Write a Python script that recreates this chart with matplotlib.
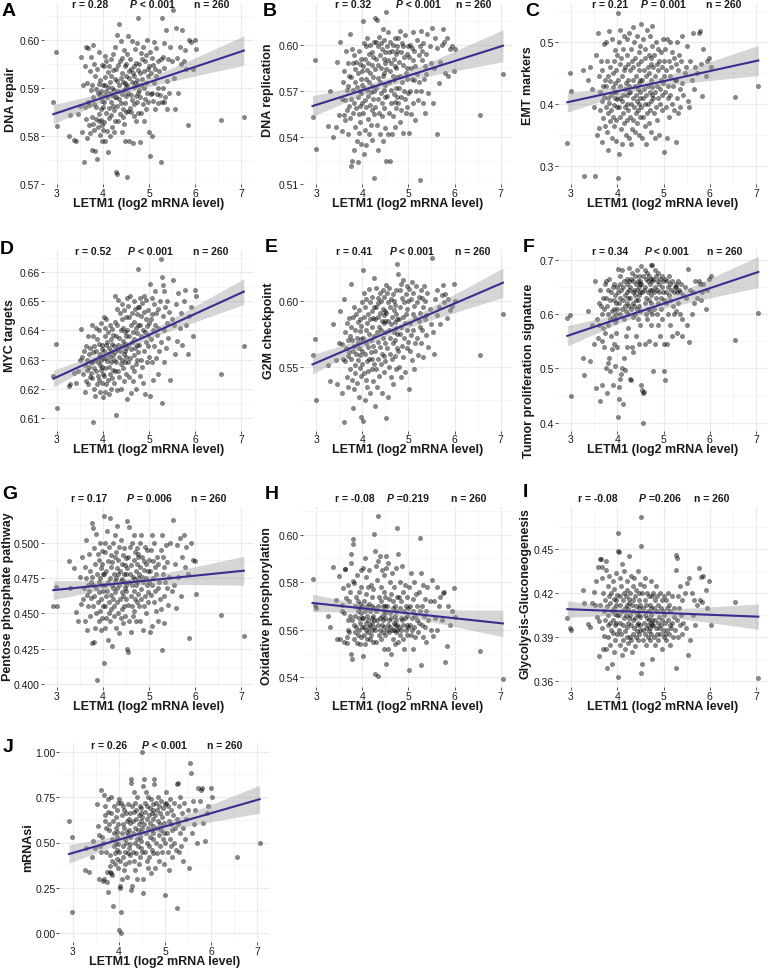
import numpy as np
import matplotlib
matplotlib.use('Agg')
import matplotlib.pyplot as plt

plt.rcParams['font.family'] = ['Liberation Sans', 'DejaVu Sans']

W, H = 771, 970

# LETM1 expression (log2 mRNA level), same 260 samples in every panel
letm1 = np.array([
    2.92, 2.98, 2.99,
    3.26, 3.29, 3.36, 3.42, 3.45, 3.49,
    3.52, 3.55, 3.57, 3.58, 3.60, 3.61, 3.62, 3.63, 3.65, 3.66, 3.67, 3.68, 3.69, 3.70, 3.71, 3.72, 3.73, 3.74,
    3.75, 3.76, 3.76, 3.77, 3.78, 3.79, 3.80, 3.80, 3.81, 3.82, 3.83, 3.84, 3.85, 3.85, 3.86, 3.87, 3.88, 3.89,
    3.90, 3.90, 3.91, 3.92, 3.93, 3.93, 3.94, 3.95, 3.95, 3.96, 3.97, 3.97, 3.98, 3.98, 3.99, 3.99, 4.00,
    4.01, 4.01, 4.02, 4.03, 4.03, 4.04, 4.05, 4.05, 4.06, 4.07, 4.07, 4.08, 4.09, 4.10, 4.10, 4.11, 4.12, 4.12, 4.13,
    4.14, 4.14, 4.15, 4.16, 4.17, 4.17, 4.18, 4.19, 4.20, 4.20, 4.21, 4.22, 4.22, 4.23, 4.24, 4.24, 4.25, 4.25, 4.25,
    4.26, 4.27, 4.27, 4.28, 4.29, 4.30, 4.30, 4.31, 4.32, 4.33, 4.33, 4.34, 4.35, 4.35, 4.36, 4.37, 4.38, 4.38, 4.39,
    4.40, 4.40, 4.41, 4.42, 4.43, 4.43, 4.44, 4.45, 4.45, 4.46, 4.47, 4.47, 4.48, 4.48, 4.49, 4.49, 4.50, 4.50, 4.50,
    4.51, 4.52, 4.52, 4.53, 4.54, 4.55, 4.56, 4.56, 4.57, 4.58, 4.59, 4.60, 4.60, 4.61, 4.62, 4.63, 4.63, 4.64,
    4.65, 4.66, 4.66, 4.67, 4.68, 4.68, 4.69, 4.70, 4.71, 4.71, 4.72, 4.73, 4.73, 4.74, 4.74, 4.75, 4.75, 4.75,
    4.76, 4.77, 4.78, 4.79, 4.80, 4.81, 4.82, 4.82, 4.83, 4.84, 4.85, 4.86, 4.87, 4.88,
    4.89, 4.89, 4.90, 4.91, 4.92, 4.93, 4.94, 4.95, 4.96, 4.97, 4.97, 4.98, 4.99, 5.00,
    5.01, 5.02, 5.03, 5.04, 5.05, 5.06, 5.07, 5.08, 5.09, 5.10, 5.11, 5.12, 5.13, 5.14, 5.15, 5.16, 5.18, 5.19, 5.20, 5.22, 5.23, 5.25,
    5.26, 5.27, 5.28, 5.29, 5.30, 5.31, 5.32, 5.33, 5.35, 5.36, 5.38, 5.39, 5.41, 5.43, 5.46, 5.49,
    5.51, 5.54, 5.56, 5.58, 5.61, 5.63, 5.66, 5.69, 5.72,
    5.76, 5.78, 5.80, 5.83, 5.86, 5.91, 5.94,
    5.99, 6.02,
    6.55,
    7.05,
])

# A: DNA repair (x 1e-4)
dna_repair = np.array([
    5870, 5975, 5820,
    5800, 5843, 5792, 5790, 5845, 5862,
    5965, 5808, 5905, 5745, 5945, 5860, 5835, 5985, 5795, 5910, 5870, 5983, 5822, 5865, 5935, 5806, 5964, 5895,
    5840, 5905, 5770, 5990, 5880, 5825, 5950, 5866, 5812, 5925, 5768, 5897, 5835, 5860, 5752, 5940, 5890, 5818,
    5830, 5907, 5975, 5845, 5885, 5802, 5916, 5855, 5833, 5893, 5790, 5948, 5872, 5823, 5860, 5812, 5905,
    5945, 5870, 5828, 5966, 5906, 5884, 5790, 5922, 5848, 5893, 5955, 5810, 5880, 5932, 5767, 5902, 5858, 5945, 5836,
    5890, 5912, 5799, 5870, 5960, 5925, 5843, 5885, 5819, 5900, 5970, 5862, 5937, 5807, 5895, 5854, 5918, 5881, 5831,
    5985, 5724, 5940, 5880, 6010, 5862, 5915, 5720, 5948, 5893, 5830, 6032, 5905, 5876, 5955, 5845, 5920, 5997, 5869,
    5808, 5930, 5887, 5962, 5856, 5913, 5840, 5978, 5895, 5825, 5945, 5868, 5910, 5790, 5925, 5882, 5950, 5850, 5902,
    5715, 5970, 5905, 5852, 6008, 5890, 5935, 5790, 5920, 5858, 5960, 5885, 5940, 5850, 5998, 5912, 5874, 5930,
    5785, 5945, 5901, 5866, 5925, 5842, 5980, 5910, 5883, 5952, 5830, 5917, 5870, 5993, 5906, 5848, 5938, 5889,
    6045, 5895, 5950, 5787, 5930, 5880, 5972, 5905, 5848, 5960, 5918, 5866, 5985, 5900,
    5935, 5830, 5955, 5876, 5910, 5968, 5855, 6000, 5890, 5940, 5870, 5925, 5807, 5945,
    5757, 5975, 5888, 5930, 5800, 5962, 5890, 5948, 5872, 5995, 5910, 5940, 5855, 5983, 5925, 5887, 5955, 5869, 5900, 5935, 5885, 5960,
    5745, 6045, 5870, 5965, 5900, 5993, 5870, 5942, 5880, 6020, 5915, 5855, 5960, 5890, 5985, 5955,
    6063, 5920, 5855, 6025, 5962, 5890, 5985, 5950, 6020,
    5955, 5978, 5940, 5822, 6000, 5995, 5940,
    6000, 5980,
    5832,
    5840,
]) / 1e4

# B: DNA replication (x 1e-4)
dna_replication = np.array([
    5535, 5900, 5325,
    5475, 5700, 5400, 5465, 5890, 5545,
    6020, 5440, 5650, 5760, 5545, 5830, 5640, 5510, 5960, 5705, 5580, 5880, 5420, 5730, 5605, 5795, 5525, 6070,
    5215, 5790, 5650, 5975, 5250, 5880, 5560, 5705, 5935, 5320, 5620, 5845, 5470, 5760, 5590, 5890, 5380, 5725,
    5660, 5240, 5815, 5550, 5960, 5430, 5700, 5875, 5605, 5500, 5780, 5685, 5905, 5355, 5740, 5620, 5830,
    6150, 5560, 5860, 5290, 5720, 6010, 5640, 5910, 5450, 5780, 5990, 5600, 5350, 5835, 5705, 6040, 5520, 5880, 5665,
    5940, 5420, 5760, 5610, 6000, 5815, 5480, 5695, 5950, 5580, 5870, 5730, 5385, 5920, 5650, 5790, 5550, 6015, 5700,
    5135, 6170, 5840, 5600, 6020, 5720, 5910, 5480, 6160, 5785, 5650, 5990, 5320, 5870, 6050, 5560, 5760, 5930, 5420,
    6010, 5690, 5850, 5540, 5970, 5620, 6100, 5800, 5380, 5905, 5710, 6030, 5590, 5820, 5950, 5660, 5880, 5460, 5740,
    5250, 6210, 5840, 5670, 5990, 5420, 5900, 6080, 5560, 5760, 5950, 5250, 5830, 6020, 5620, 5880, 5710, 5960,
    5420, 5800, 5540, 6000, 5680, 5910, 5770, 5470, 5860, 6040, 5630, 5940, 5720, 5850, 5590, 5990, 5790, 5660,
    5960, 5620, 6040, 5720, 5890, 5500, 6090, 5800, 5660, 5950, 5580, 6010, 5760, 5870,
    5430, 5990, 5700, 5920, 5650, 6060, 5820, 5560, 5940, 5780, 5600, 5850, 5990, 5690,
    5430, 5920, 6000, 5700, 5850, 5550, 5980, 5780, 6080, 5620, 5900, 5770, 5960, 5510, 5860, 5700, 6030, 5810, 5640, 5930, 5760, 5990,
    5125, 6090, 5700, 5900, 5960, 5620, 6010, 5780, 5860, 5560, 5940, 5810, 6070, 5690, 5990, 5880,
    6110, 5620, 5850, 6040, 5420, 5980, 5750, 5890, 6000,
    6100, 6020, 5820, 6045, 5800, 5970, 5990,
    5830, 5970,
    5545,
    5810,
]) / 1e4

# C: EMT markers (x 1e-3)
emt_markers = np.array([
    337, 451, 422,
    455, 283, 440, 460, 425, 395,
    283, 480, 350, 515, 362, 445, 420, 390, 470, 405, 338, 455, 430, 378, 498, 412, 365, 440,
    500, 395, 430, 355, 470, 410, 385, 445, 325, 518, 402, 438, 372, 460, 415, 390, 505, 345,
    428, 450, 380, 470, 398, 420, 365, 488, 410, 435, 375, 455, 340, 420, 395, 480, 408,
    548, 281, 440, 395, 500, 320, 465, 410, 380, 520, 430, 360, 475, 405, 445, 335, 490, 415, 385,
    455, 370, 510, 425, 395, 460, 350, 435, 480, 400, 415, 375, 505, 440, 390, 465, 345, 420, 430,
    515, 380, 455, 420, 335, 490, 400, 470, 360, 440, 525, 410, 375, 460, 395, 500, 430, 355, 475,
    415, 385, 445, 510, 405, 370, 465, 425, 390, 485, 350, 435, 455, 400, 420, 380, 495, 440, 410,
    530, 395, 470, 345, 440, 410, 505, 380, 455, 425, 365, 490, 400, 475, 335, 445, 415, 520,
    385, 460, 430, 400, 480, 370, 450, 420, 510, 390, 465, 405, 440, 355, 475, 415, 495, 428,
    527, 410, 460, 385, 480, 345, 445, 420, 500, 395, 465, 430, 375, 490,
    410, 455, 350, 470, 425, 400, 485, 440, 390, 460, 415, 505, 435, 445,
    322, 470, 420, 490, 395, 455, 345, 505, 430, 410, 470, 380, 445, 500, 415, 460, 400, 485, 430, 390, 475, 440,
    338, 465, 440, 500, 410, 455, 385, 480, 425, 395, 470, 435, 510, 415, 450, 460,
    495, 405, 395, 470, 440, 515, 425, 460, 450,
    515, 518, 465, 413, 490, 445, 470,
    475, 460,
    411,
    430,
]) / 1e3

# D: MYC targets (x 1e-4)
myc_targets = np.array([
    6242, 6355, 6135,
    6210, 6215, 6255, 6220, 6260, 6300,
    6405, 6310, 6250, 6330, 6190, 6280, 6345, 6225, 6300, 6265, 6380, 6215, 6320, 6275, 6240, 6340, 6290, 6255,
    6420, 6290, 6235, 6325, 6085, 6380, 6270, 6200, 6345, 6300, 6175, 6410, 6260, 6330, 6215, 6370, 6290, 6245,
    6310, 6400, 6230, 6355, 6280, 6190, 6320, 6265, 6425, 6300, 6220, 6350, 6275, 6335, 6170, 6305, 6250,
    6445, 6330, 6245, 6380, 6190, 6305, 6410, 6270, 6350, 6215, 6440, 6295, 6360, 6230, 6320, 6395, 6180, 6340, 6275,
    6420, 6310, 6250, 6370, 6200, 6330, 6290, 6405, 6355, 6235, 6315, 6265, 6385, 6220, 6345, 6300, 6430, 6260, 6325,
    6520, 6110, 6380, 6290, 6475, 6335, 6195, 6420, 6350, 6260, 6505, 6310, 6375, 6240, 6460, 6330, 6285, 6400, 6200,
    6440, 6345, 6300, 6490, 6365, 6270, 6410, 6320, 6225, 6470, 6355, 6290, 6395, 6330, 6250, 6445, 6310, 6380, 6340,
    6510, 6165, 6400, 6290, 6485, 6350, 6240, 6445, 6380, 6305, 6520, 6185, 6420, 6335, 6275, 6460, 6360, 6225,
    6395, 6500, 6315, 6430, 6260, 6370, 6475, 6340, 6285, 6410, 6200, 6455, 6350, 6390, 6300, 6480, 6325, 6420,
    6610, 6350, 6480, 6245, 6420, 6510, 6300, 6450, 6380, 6275, 6495, 6400, 6220, 6465,
    6330, 6520, 6395, 6180, 6440, 6360, 6505, 6290, 6415, 6470, 6345, 6385, 6425, 6310,
    6560, 6175, 6440, 6370, 6510, 6290, 6455, 6400, 6230, 6490, 6345, 6420, 6535, 6305, 6460, 6385, 6250, 6475, 6410, 6330, 6500, 6360,
    6645, 6150, 6585, 6555, 6450, 6290, 6535, 6400, 6480, 6340, 6425, 6500, 6375, 6465, 6230, 6440,
    6575, 6420, 6320, 6490, 6365, 6530, 6410, 6460, 6350,
    6500, 6540, 6420, 6320, 6450, 6480, 6380,
    6540, 6520,
    6250,
    6348,
]) / 1e4

# E: G2M checkpoint (x 1e-4)
g2m_checkpoint = np.array([
    5590, 5710, 5250,
    5510, 5390, 5820, 5550, 5370, 5680,
    5920, 5300, 5670, 5560, 5080, 6010, 5540, 5760, 5640, 5420, 5830, 5580, 5700, 5350, 5870, 5610, 5480, 5730,
    6130, 5560, 5800, 5400, 5700, 5190, 5880, 5620, 5330, 5950, 5660, 5510, 5780, 5450, 5900, 5600, 5720, 5380,
    5840, 5550, 5680, 5270, 5930, 5640, 5490, 5770, 5590, 5860, 5430, 5710, 5120, 5810, 5620, 5990, 5520,
    6230, 5090, 5720, 5880, 5450, 6060, 5600, 5250, 5950, 5780, 5400, 5680, 6010, 5540, 5830, 5350, 5900, 5650, 5470,
    6090, 5750, 5560, 5860, 5300, 5990, 5700, 5610, 5920, 5480, 5800, 5560, 6030, 5660, 5390, 5870, 5730, 5520, 5950,
    6170, 5200, 5860, 5620, 6100, 5480, 5950, 5760, 5350, 6020, 5690, 5880, 5560, 5980, 5430, 5800, 6060, 5650, 5910,
    5520, 5780, 6000, 5600, 5850, 5300, 5940, 5720, 6080, 5580, 5890, 5460, 5830, 6030, 5680, 5760, 5920, 5540, 5850,
    6120, 5110, 5910, 5640, 6060, 5270, 5850, 5990, 5500, 5780, 6100, 5600, 5950, 5720, 5420, 6010, 5820, 5560,
    5880, 6050, 5680, 5370, 5930, 5760, 6000, 5580, 5840, 5700, 5970, 5480, 5900, 5790, 6080, 5640, 5860, 5750,
    6280, 5620, 6200, 5860, 5500, 6080, 5750, 5950, 5420, 6130, 5800, 5660, 6020, 5880,
    5570, 6160, 5720, 5990, 5830, 5460, 6050, 5900, 5640, 6110, 5780, 5940, 5690, 6000,
    5330, 6090, 5830, 5620, 6010, 5740, 6140, 5550, 5900, 5780, 6060, 5480, 5960, 5680, 5870, 6110, 5720, 5990, 5590, 5850, 6030, 5800,
    5910, 6080, 5680, 6020, 5780, 5950, 5570, 6110, 5860, 6000, 5740, 5890, 6060, 5650, 5940, 5820,
    6320, 5760, 5600, 6010, 5890, 6080, 5950, 5820, 6040,
    6120, 5990, 6050, 5870, 6010, 5930, 5960,
    6130, 6000,
    5590,
    5900,
]) / 1e4

# F: Tumor proliferation signature (x 1e-3)
tumor_prolif = np.array([
    592, 598, 450,
    520, 487, 605, 513, 580, 545,
    660, 464, 590, 555, 620, 580, 645, 440, 615, 550, 470, 600, 630, 575, 540, 610, 655, 565,
    660, 500, 630, 454, 615, 580, 510, 645, 600, 520, 665, 590, 495, 625, 560, 640, 535, 605,
    650, 470, 595, 625, 545, 610, 655, 585, 505, 635, 600, 565, 620, 590, 540, 650, 610,
    682, 410, 640, 443, 620, 466, 655, 600, 480, 670, 630, 490, 645, 610, 500, 680, 625, 435, 650,
    590, 520, 660, 615, 497, 635, 605, 560, 665, 640, 540, 620, 655, 575, 630, 600, 645, 615, 660,
    685, 480, 650, 630, 478, 665, 610, 540, 675, 640, 620, 595, 660, 530, 645, 615, 670, 600, 635,
    655, 560, 625, 680, 610, 645, 590, 660, 625, 545, 650, 615, 670, 635, 605, 655, 580, 640, 660,
    688, 470, 655, 460, 640, 455, 670, 400, 645, 457, 620, 545, 680, 650, 600, 665, 630, 590,
    675, 640, 610, 660, 625, 550, 670, 645, 605, 655, 635, 580, 665, 620, 690, 645, 600, 660,
    690, 495, 665, 640, 610, 680, 650, 545, 670, 630, 600, 660, 645, 580,
    675, 620, 655, 640, 560, 665, 630, 610, 670, 650, 590, 640, 660, 625,
    545, 495, 665, 478, 640, 620, 660, 545, 650, 600, 670, 635, 580, 655, 625, 645, 560, 660, 615, 640, 600, 650,
    655, 650, 605, 640, 565, 660, 620, 645, 600, 640, 655, 590, 560, 635, 650, 630,
    580, 682, 548, 645, 600, 640, 620, 660, 630,
    660, 655, 625, 640, 655, 610, 645,
    665, 670,
    552,
    602,
]) / 1e3

# G: Pentose phosphate pathway (x 1e-3)
pentose_phosphate = np.array([
    455, 469, 455,
    487, 468, 482, 451, 445, 476,
    457, 490, 460, 468, 483, 445, 475, 502, 463, 438, 470, 455, 492, 466, 448, 480, 461, 472,
    514, 429, 476, 510, 455, 470, 430, 496, 462, 440, 485, 468, 506, 450, 478, 403, 492, 458,
    472, 445, 488, 465, 500, 452, 475, 438, 482, 460, 494, 447, 470, 485, 455, 466, 478,
    519, 415, 478, 500, 455, 470, 440, 493, 462, 480, 447, 508, 466, 431, 487, 472, 458, 497, 450,
    517, 475, 445, 483, 463, 491, 453, 470, 427, 486, 460, 500, 468, 448, 478, 455, 490, 473, 465,
    505, 440, 475, 493, 458, 482, 468, 512, 450, 478, 488, 436, 470, 497, 460, 480, 447, 473, 502,
    465, 453, 485, 474, 443, 491, 462, 478, 455, 496, 468, 448, 484, 472, 460, 478, 466, 489, 470,
    515, 425, 482, 423, 490, 456, 472, 511, 445, 478, 497, 462, 484, 437, 470, 500, 455, 476,
    448, 488, 466, 505, 452, 474, 493, 460, 480, 445, 470, 496, 458, 485, 472, 464, 490, 475,
    492, 455, 478, 500, 445, 483, 467, 505, 460, 476, 490, 438, 472, 487,
    455, 481, 497, 462, 475, 450, 485, 470, 495, 458, 480, 465, 488, 472,
    437, 480, 495, 463, 505, 470, 441, 487, 475, 458, 500, 466, 483, 452, 478, 490, 468, 445, 485, 472, 460, 495,
    453, 505, 424, 478, 490, 462, 483, 443, 472, 498, 468, 486, 456, 476, 500, 466,
    516, 470, 485, 454, 498, 476, 503, 462, 490,
    505, 483, 497, 478, 433, 500, 488,
    487, 464,
    449,
    434,
]) / 1e3

# H: Oxidative phosphorylation (x 1e-4)
oxphos = np.array([
    5815, 5705, 5690,
    5660, 5610, 5865, 5725, 5560, 5825,
    5560, 5705, 5680, 5775, 5550, 5670, 5855, 5855, 5735, 5570, 5545, 5640, 5790, 5600, 5720, 5590, 5660, 5760,
    5920, 5500, 5880, 5475, 5640, 5960, 5980, 5805, 5795, 5620, 5560, 5700, 5590, 5660, 5740, 5610, 5830, 5545,
    5680, 5720, 5580, 5650, 5760, 5600, 5690, 5540, 5710, 5630, 5780, 5570, 5670, 5850, 5610, 5700, 5650,
    5490, 5860, 5650, 5580, 5720, 5610, 5900, 5540, 5680, 5750, 5600, 5820, 5630, 5560, 5700, 5660, 5780, 5590, 5640,
    5850, 5610, 5710, 5560, 5680, 5620, 5790, 5580, 5740, 5650, 5600, 5700, 5630, 5550, 5770, 5660, 5610, 5690, 5640,
    6005, 5415, 5930, 5600, 5870, 5680, 5550, 5810, 5640, 6080, 5405, 5700, 5620, 5890, 5580, 5740, 5650, 5910, 5600,
    5720, 5560, 5780, 5660, 5620, 5850, 5700, 5590, 5640, 5760, 5680, 5520, 5830, 5610, 5700, 5650, 5740, 5580, 5670,
    5910, 5455, 5860, 5600, 5700, 5620, 5520, 5880, 5640, 5730, 5590, 5670, 5800, 5610, 5500, 5750, 5650, 5600,
    5840, 5690, 5560, 5720, 5630, 5600, 5780, 5660, 5540, 5700, 5620, 5860, 5590, 5680, 5640, 5600, 5740, 5620,
    6030, 5920, 5550, 5740, 5610, 5690, 5800, 5580, 5650, 5720, 5600, 5870, 5640, 5560,
    5760, 5620, 5680, 5520, 5790, 5650, 5600, 5700, 5580, 5740, 5660, 5620, 5690, 5610,
    5430, 5780, 5620, 5700, 5580, 5840, 5650, 5600, 5730, 5520, 5680, 5800, 5610, 5660, 5570, 5750, 5640, 5700, 5590, 5760, 5630, 5680,
    5985, 5450, 5840, 5620, 5700, 5570, 5790, 5660, 5610, 5730, 5550, 5680, 5780, 5640, 5720, 5600,
    5810, 5575, 5720, 5650, 5780, 5600, 5700, 5740, 5640,
    5755, 5760, 5465, 5530, 5700, 5620, 5680,
    5775, 5655,
    5510,
    5395,
]) / 1e4

# I: Glycolysis-Gluconeogenesis (x 1e-3)
glycolysis = np.array([
    403, 396, 395,
    422, 413, 399, 397, 413, 421,
    412, 428, 404, 438, 401, 377, 412, 443, 443, 438, 430, 396, 382, 420, 408, 391, 415, 402,
    442, 436, 382, 369, 411, 398, 425, 405, 390, 418, 432, 400, 385, 413, 395, 420, 408, 372,
    428, 402, 393, 416, 380, 410, 423, 398, 406, 388, 415, 434, 400, 412, 392, 419, 405,
    461, 363, 449, 448, 405, 395, 418, 385, 430, 400, 412, 392, 425, 378, 408, 440, 398, 415, 388,
    420, 403, 435, 394, 410, 382, 418, 405, 428, 397, 412, 390, 422, 400, 409, 386, 416, 403, 413,
    445, 390, 420, 405, 388, 432, 398, 412, 380, 425, 402, 415, 392, 408, 430, 396, 384, 418, 403,
    411, 390, 422, 398, 406, 394, 435, 400, 388, 415, 405, 420, 392, 410, 398, 426, 404, 395, 412,
    472, 366, 452, 372, 420, 395, 410, 388, 425, 400, 415, 392, 405, 430, 396, 385, 412, 403,
    420, 390, 398, 408, 394, 418, 402, 388, 412, 396, 428, 400, 392, 410, 405, 398, 418, 402,
    375, 420, 398, 410, 390, 415, 402, 385, 425, 396, 408, 392, 418, 400,
    388, 412, 396, 404, 420, 392, 410, 398, 382, 415, 402, 395, 408, 390,
    405, 418, 392, 400, 415, 388, 410, 395, 420, 402, 392, 412, 398, 385, 408, 396, 418, 400, 390, 410, 404, 395,
    436, 369, 446, 444, 402, 418, 390, 410, 398, 425, 405, 392, 415, 400, 420, 396,
    427, 378, 430, 388, 420, 405, 415, 398, 412,
    437, 415, 431, 414, 432, 422, 410,
    428, 398,
    414,
    362,
]) / 1e3

# J: mRNAsi (x 1e-2)
mrnasi = np.array([
    62, 53, 12,
    35, 47, 34, 42, 51, 47,
    71, 59, 30, 54, 48, 45, 79, 53, 50, 29, 30, 76, 70, 65, 62, 58, 45, 34,
    28, 23, 74, 67, 60, 57, 43, 37, 34, 33, 75, 66, 52, 40, 32, 15, 62, 48,
    55, 70, 44, 38, 58, 50, 64, 46, 53, 41, 68, 56, 36, 60, 49, 72, 45,
    74, 2, 25, 26, 40, 72, 12, 0, 30, 65, 55, 48, 70, 42, 60, 35, 58, 68, 45,
    52, 38, 66, 50, 62, 31, 56, 44, 71, 54, 47, 63, 39, 57, 66, 49, 43, 61, 53,
    85, 83, 24, 26, 70, 45, 62, 55, 78, 40, 67, 58, 35, 72, 50, 63, 44, 68, 52,
    30, 75, 57, 48, 65, 38, 60, 53, 70, 42, 66, 56, 47, 62, 51, 69, 58, 45, 64,
    100, 81, 22, 30, 85, 60, 72, 45, 67, 55, 78, 40, 63, 50, 70, 36, 58, 75,
    48, 65, 42, 69, 53, 61, 33, 74, 57, 46, 66, 52, 71, 59, 44, 63, 55, 68,
    85, 82, 36, 65, 50, 72, 58, 44, 68, 62, 75, 54, 40, 70,
    60, 48, 66, 57, 73, 45, 64, 52, 69, 38, 61, 55, 71, 50,
    21, 72, 78, 55, 66, 45, 70, 35, 62, 52, 74, 48, 60, 68, 42, 57, 65, 50, 72, 58, 46, 63,
    14, 82, 83, 60, 45, 70, 55, 75, 48, 66, 40, 58, 72, 52, 63, 68,
    36, 94, 88, 55, 73, 60, 68, 50, 80,
    73, 79, 80, 61, 51, 66, 70,
    80, 75,
    42,
    50,
]) / 1e2

letters = ['A', 'B', 'C', 'D', 'E', 'F', 'G', 'H', 'I', 'J']
ylabels = ['DNA repair', 'DNA replication', 'EMT markers', 'MYC targets', 'G2M checkpoint',
           'Tumor proliferation signature', 'Pentose phosphate pathway',
           'Oxidative phosphorylation', 'Glycolysis-Gluconeogenesis', 'mRNAsi']
series = [dna_repair, dna_replication, emt_markers, myc_targets, g2m_checkpoint,
          tumor_prolif, pentose_phosphate, oxphos, glycolysis, mrnasi]
r_text = ['r = 0.28', 'r = 0.32', 'r = 0.21', 'r = 0.52', 'r = 0.41',
          'r = 0.34', 'r = 0.17', 'r = -0.08', 'r = -0.08', 'r = 0.26']
p_text = [' < 0.001', ' < 0.001', ' = 0.001', ' < 0.001', ' < 0.001',
          ' < 0.001', ' = 0.006', ' =0.219', ' =0.206', ' < 0.001']
n_text = 'n = 260'
yticks = [
    [0.57, 0.58, 0.59, 0.60], [0.51, 0.54, 0.57, 0.60], [0.3, 0.4, 0.5],
    [0.61, 0.62, 0.63, 0.64, 0.65, 0.66], [0.55, 0.60], [0.4, 0.5, 0.6, 0.7],
    [0.400, 0.425, 0.450, 0.475, 0.500], [0.54, 0.56, 0.58, 0.60],
    [0.36, 0.39, 0.42, 0.45], [0.00, 0.25, 0.50, 0.75, 1.00],
]
ytick_fmt = ['%.2f', '%.2f', '%.1f', '%.2f', '%.2f', '%.1f', '%.3f', '%.2f', '%.2f', '%.2f']
ylims = [
    (0.56995, 0.60755), (0.50987, 0.62664), (0.27066, 0.56321),
    (0.60559, 0.66768), (0.50167, 0.63841), (0.38585, 0.71765),
    (0.39787, 0.52532), (0.53580, 0.61178), (0.35595, 0.47881),
    (-0.0501, 1.0501),
]

# layout in pixels: x of tick 3 / tick 7 per panel, top/bottom of panel rows
px3 = [57, 316.2, 571, 57, 316.2, 571, 57, 316.2, 571, 72.7]
px7 = [241.5, 500.6, 756, 241.5, 500.6, 756, 241.5, 500.6, 756, 257.3]
rows_tb = [(4.5, 185), (251, 431.5), (507.7, 688.3), (743.6, 943.4)]
letter_xy = [(2, 12), (263, 11), (525, 12), (0, 249.5), (265, 248), (523, 248),
             (2, 495), (265, 495), (523, 493), (3, 748)]
ylabel_xy = [(11, 100), (268, 90), (528, 86), (10, 336), (269, 331), (529, 371),
             (8, 597), (267, 606), (526, 594), (28, 848)]
stat_x = [(90, 152.5, 211.7), (353.3, 418.3, 473.3), (610, 663.3, 723.3),
          (93.3, 150, 210.8), (354.2, 411.7, 472.5), (610, 666.7, 725),
          (89.2, 149.2, 208.3), (355, 407.5, 468.3), (598.3, 660, 711.7),
          (109.2, 164.2, 224.2)]
stat_y = [5, 5, 5, 251.7, 251.7, 251.7, 499.3, 499.3, 499.3, 746]

xmin, xmax = letm1.min(), letm1.max()
xlo = xmin - 0.05 * (xmax - xmin)
xhi = xmax + 0.05 * (xmax - xmin)

fig = plt.figure(figsize=(W / 100, H / 100), dpi=100)
renderer = fig.canvas.get_renderer()


def fx(px):
    return px / W


def fy(py):
    return 1 - py / H


def fit_band(x, y, xs):
    n = len(x)
    b, a = np.polyfit(x, y, 1)
    s = np.sqrt(np.sum((y - (a + b * x)) ** 2) / (n - 2))
    sxx = np.sum((x - x.mean()) ** 2)
    se = s * np.sqrt(1 / n + (xs - x.mean()) ** 2 / sxx)
    fit = a + b * xs
    return fit, fit - 1.969 * se, fit + 1.969 * se


txt_col = '#1a1a1a'
for i in range(10):
    scale = (px7[i] - px3[i]) / 4
    left = px3[i] - (3 - xlo) * scale
    right = px7[i] + (xhi - 7) * scale
    top, bottom = rows_tb[i // 3]
    ax = fig.add_axes([fx(left), fy(bottom), (right - left) / W, (bottom - top) / H])
    y = series[i]

    ax.scatter(letm1, y, s=13, color='black', alpha=0.47, linewidths=0, zorder=2)
    xs = np.linspace(xmin, xmax, 80)
    fit, lo, hi = fit_band(letm1, y, xs)
    ax.fill_between(xs, lo, hi, color='#999999', alpha=0.4, linewidth=0, zorder=3)
    ax.plot(xs, fit, color='#3b2d90', lw=1.5, zorder=4)

    ax.set_xlim(xlo, xhi)
    ax.set_ylim(*ylims[i])
    ax.set_xticks([3, 4, 5, 6, 7])
    ax.set_xticks([3.5, 4.5, 5.5, 6.5], minor=True)
    yt = yticks[i]
    step = yt[1] - yt[0]
    ymin_t = [yt[0] - step / 2] + [v + step / 2 for v in yt]
    ymin_t = [v for v in ymin_t if ylims[i][0] < v < ylims[i][1]]
    ax.set_yticks(yt)
    ax.set_yticklabels([ytick_fmt[i] % v for v in yt])
    ax.set_yticks(ymin_t, minor=True)
    ax.tick_params(which='major', length=2, width=0.6, color='#333333', pad=0.8,
                   labelsize=7.5, labelcolor=txt_col)
    ax.tick_params(which='minor', length=0)
    ax.grid(which='major', color='#ebebeb', lw=0.9)
    ax.grid(which='minor', color='#f2f2f2', lw=0.5)
    ax.set_axisbelow(True)
    for sp in ax.spines.values():
        sp.set_visible(False)

    # axis titles
    fig.text(fx((left + right) / 2), fy(bottom + 18.5), 'LETM1 (log2 mRNA level)',
             ha='center', va='center', fontsize=9, fontweight='bold', color=txt_col)
    lx, ly = ylabel_xy[i]
    fig.text(fx(lx), fy(ly), ylabels[i], rotation=90, ha='center', va='center',
             fontsize=9, fontweight='bold', color=txt_col)

    # panel letter
    gx, gy = letter_xy[i]
    fig.text(fx(gx), fy(gy), letters[i], ha='left', va='center', fontsize=14,
             fontweight='bold', color='black')

    # statistics line
    rx, pxc, nx = stat_x[i]
    sy = stat_y[i]
    fig.text(fx(rx), fy(sy), r_text[i], ha='center', va='center', fontsize=7.5,
             fontweight='bold', color=txt_col)
    fig.text(fx(nx), fy(sy), n_text, ha='center', va='center', fontsize=7.5,
             fontweight='bold', color=txt_col)
    tp = fig.text(0, 0, 'P', fontsize=7.5, fontweight='bold', fontstyle='italic')
    tr = fig.text(0, 0, p_text[i], fontsize=7.5, fontweight='bold')
    wp = tp.get_window_extent(renderer).width
    wr = tr.get_window_extent(renderer).width
    x0 = pxc - (wp + wr) / 2
    tp.set_position((fx(x0), fy(sy)))
    tp.set_va('center')
    tp.set_color(txt_col)
    tr.set_position((fx(x0 + wp), fy(sy)))
    tr.set_va('center')
    tr.set_color(txt_col)

fig.savefig('out.png', dpi=100)
